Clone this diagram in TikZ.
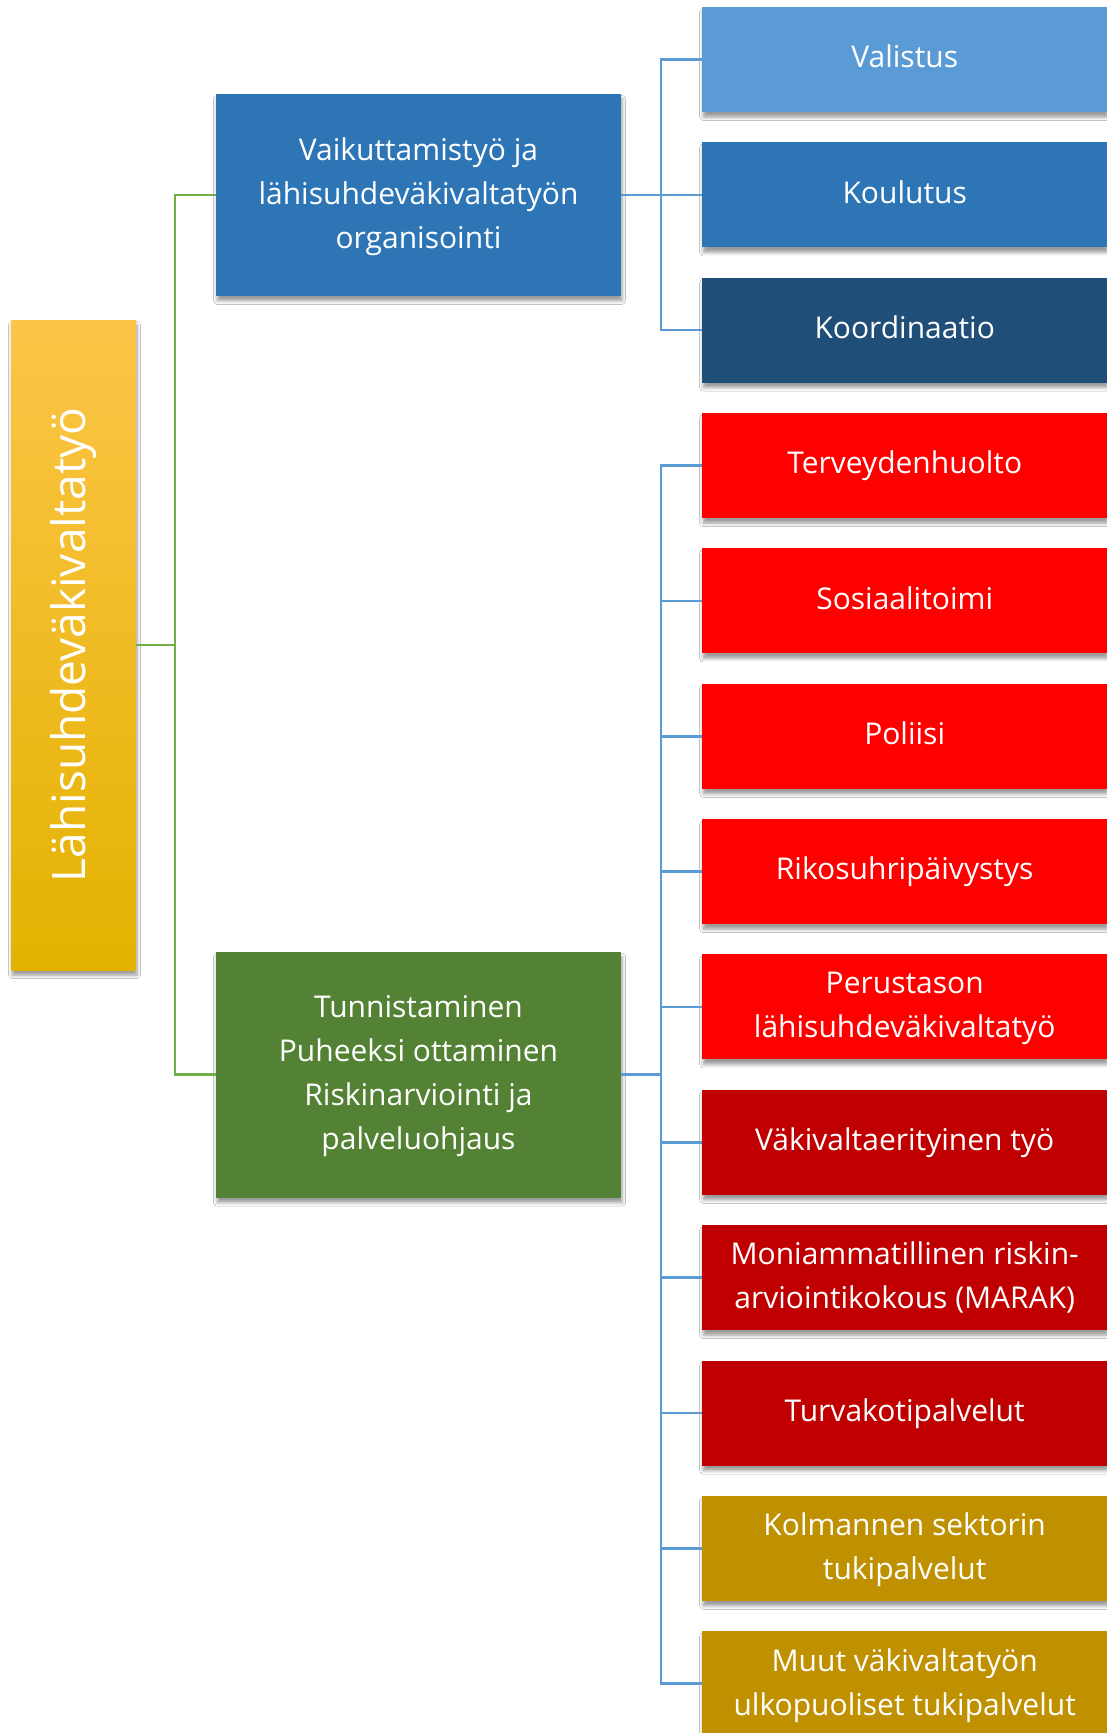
\documentclass[tikz,border=0pt]{standalone}
\usepackage{fontspec}
\setmainfont{Open Sans}
\usetikzlibrary{shadows,shadows.blur,calc}
\definecolor{cLight}{HTML}{5B9BD5}
\definecolor{cMid}{HTML}{2E75B6}
\definecolor{cDark}{HTML}{1F4E79}
\definecolor{cGreen}{HTML}{548235}
\definecolor{cRed}{HTML}{FF0000}
\definecolor{cDRed}{HTML}{C00000}
\definecolor{cGold}{HTML}{BF9000}
\definecolor{lGreen}{HTML}{70AD47}
\definecolor{lBlue}{HTML}{5B9BD5}
\definecolor{rTop}{HTML}{FDC548}
\definecolor{rMid}{HTML}{FFC000}
\definecolor{rBot}{HTML}{E3B200}
\begin{document}
\begin{tikzpicture}[x=1pt,y=-1pt,
  shad/.style={blur shadow={shadow xshift=1pt,shadow yshift=-5pt,shadow blur radius=3.5pt,shadow opacity=40}},
  boxbase/.style={shad,rectangle,inner sep=0pt,text=white,align=center,
    font=\fontsize{30}{44}\selectfont,text depth=0.42em},
  childbox/.style={boxbase,anchor=west,minimum width=405pt,minimum height=105pt,fill=#1},
  onel/.style={text depth=0.65em},
  parentbox/.style={boxbase,minimum width=405pt,fill=#1},
  gline/.style={draw=lGreen,line width=2.5pt},
  bline/.style={draw=lBlue,line width=2.5pt}]
\useasboundingbox[fill=white] (0,0) rectangle (1107,1733);

% root
\node[shad,rectangle,inner sep=0pt,minimum width=125pt,minimum height=650pt,
  top color=rTop,middle color=rMid,bottom color=rBot] (root) at (73.5,645) {};
\node[rotate=90,text=white,font=\fontsize{46}{50}\selectfont] (roottext) at (root.center) {Lähisuhdeväkivaltatyö};

% parents
\node[parentbox=cMid,minimum height=202pt] (p1) at (418.5,194.85)
  {Vaikuttamistyö ja\\lähisuhdeväkivaltatyön\\organisointi};
\node[parentbox=cGreen,minimum height=246pt] (p2) at (418.5,1074.6)
  {Tunnistaminen\\Puheeksi ottaminen\\Riskinarviointi ja\\palveluohjaus};

% children
\node[childbox=cLight,onel] (c0) at (702,59.5) {Valistus};
\node[childbox=cMid,onel] (c1) at (702,194.85) {Koulutus};
\node[childbox=cDark,onel] (c2) at (702,330.2) {Koordinaatio};
\node[childbox=cRed,onel] (c3) at (702,465.55) {Terveydenhuolto};
\node[childbox=cRed,onel] (c4) at (702,600.9) {Sosiaalitoimi};
\node[childbox=cRed,onel] (c5) at (702,736.25) {Poliisi};
\node[childbox=cRed,onel] (c6) at (702,871.6) {Rikosuhripäivystys};
\node[childbox=cRed] (c7) at (702,1006.95) {Perustason\\lähisuhdeväkivaltatyö};
\node[childbox=cDRed,onel] (c8) at (702,1142.3) {Väkivaltaerityinen työ};
\node[childbox=cDRed] (c9) at (702,1277.65) {Moniammatillinen riskin-\\arviointikokous (MARAK)};
\node[childbox=cDRed,onel] (c10) at (702,1413.0) {Turvakotipalvelut};
\node[childbox=cGold] (c11) at (702,1548.35) {Kolmannen sektorin\\tukipalvelut};
\node[childbox=cGold] (c12) at (702,1683.7) {Muut väkivaltatyön\\ulkopuoliset tukipalvelut};

% connectors
\coordinate (gj) at (175,645);
\draw[gline] (root.east) -- (gj);
\draw[gline] (gj) |- (p1.west);
\draw[gline] (gj) |- (p2.west);

\coordinate (bj1) at (661,194.85);
\draw[bline] (p1.east) -- (bj1);
\foreach \i in {0,1,2}{\draw[bline] (bj1) |- (c\i.west);}

\coordinate (bj2) at (661,1074.6);
\draw[bline] (p2.east) -- (bj2);
\foreach \i in {3,...,12}{\draw[bline] (bj2) |- (c\i.west);}
\end{tikzpicture}
\end{document}
